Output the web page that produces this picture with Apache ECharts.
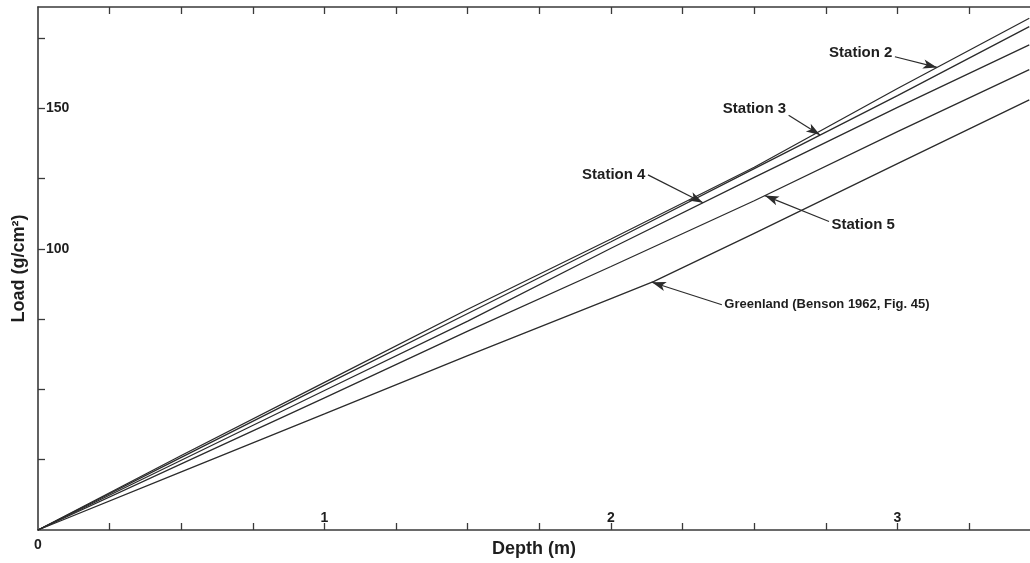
<!DOCTYPE html>
<html>
<head>
<meta charset="utf-8">
<script src="https://cdn.jsdelivr.net/npm/echarts@6/dist/echarts.min.js"></script>
<style>
  html, body { margin: 0; padding: 0; background: #fff; }
  #chart { width: 1030px; height: 563px; }
</style>
</head>
<body>
<div id="chart"></div>
<script>
// Depth (m) sample points for the station curves
const DEPTH = [0, 0.5, 1, 1.5, 2, 2.5, 3, 3.46];
// Load (g/cm²) at each depth
const STATION_2 = [0, 26.5, 52.5, 78.5, 103.5, 129, 157, 182];
const STATION_3 = [0, 25.8, 51.5, 77, 102.5, 128.5, 154.5, 179];
const STATION_4 = [0, 24.8, 49.6, 74.3, 100.2, 125.4, 150.3, 172.5];
const STATION_5 = [0, 23.5, 47, 70.7, 93.7, 117.1, 141.7, 163.7];
// Greenland reference curve (Benson 1962)
const GREENLAND_DEPTH = [0, 0.5, 1, 1.5, 2, 2.15, 2.5, 3, 3.46];
const GREENLAND = [0, 20.7, 41.3, 62, 82.3, 88.4, 105.5, 130.3, 153];

// Axis ranges and tick labels
const X_MAX = 3.4625;
const Y_MAX = 186;
const X_TICKS = [0.25, 0.5, 0.75, 1, 1.25, 1.5, 1.75, 2, 2.25, 2.5, 2.75, 3, 3.25];
const X_LABELS = [1, 2, 3];
const Y_TICKS = [25, 50, 75, 100, 125, 150, 175];
const Y_LABELS = [100, 150];

// Callouts: text, arrow tail [depth, load], depth where the arrow meets its curve
const CALLOUTS = [
  { text: 'Station 2', curve: 'Station 2', tail: [2.991, 168.3], tipDepth: 3.138, side: 'left', dy: -4, size: 15 },
  { text: 'Station 3', curve: 'Station 3', tail: [2.62, 147.5], tipDepth: 2.73, side: 'left', dy: -6, size: 15 },
  { text: 'Station 4', curve: 'Station 4', tail: [2.129, 126.3], tipDepth: 2.321, side: 'left', dy: 0, size: 15 },
  { text: 'Station 5', curve: 'Station 5', tail: [2.761, 109.7], tipDepth: 2.537, side: 'right', dy: 3, size: 15 },
  { text: 'Greenland (Benson 1962, Fig. 45)', curve: 'Greenland', tail: [2.387, 80.1], tipDepth: 2.143, side: 'right', dy: 0, size: 13 }
];

const INK = '#1e1e1e';
const FONT = '"Liberation Sans", Arial, Helvetica, sans-serif';

function pairs(xs, ys) { return xs.map((x, i) => [x, ys[i]]); }

const curves = {
  'Station 2': pairs(DEPTH, STATION_2),
  'Station 3': pairs(DEPTH, STATION_3),
  'Station 4': pairs(DEPTH, STATION_4),
  'Station 5': pairs(DEPTH, STATION_5),
  'Greenland': pairs(GREENLAND_DEPTH, GREENLAND)
};

// load on a curve at a given depth (linear between samples)
function loadAt(pts, d) {
  for (let i = 1; i < pts.length; i++) {
    if (d <= pts[i][0]) {
      const t = (d - pts[i - 1][0]) / (pts[i][0] - pts[i - 1][0]);
      return pts[i - 1][1] + t * (pts[i][1] - pts[i - 1][1]);
    }
  }
  return pts[pts.length - 1][1];
}

const lineSeries = Object.keys(curves).map(name => ({
  name: name,
  type: 'line',
  data: curves[name],
  showSymbol: false,
  symbol: 'none',
  smooth: false,
  lineStyle: { color: '#2b2b2b', width: 1.3 },
  silent: true,
  z: 2
}));

const calloutSeries = {
  type: 'scatter',
  symbolSize: 1,
  itemStyle: { color: 'rgba(0,0,0,0)', opacity: 1 },
  silent: true,
  data: CALLOUTS.map(c => ({
    value: c.tail,
    label: {
      show: true,
      formatter: c.text,
      position: c.side,
      distance: 2,
      offset: [0, c.dy],
      color: INK,
      opacity: 1,
      textBorderWidth: 0,
      fontFamily: FONT,
      fontWeight: 'bold',
      fontSize: c.size
    }
  })),
  markLine: {
    silent: true,
    animation: false,
    symbol: ['none', 'arrow'],
    symbolSize: [7, 14],
    label: { show: false },
    lineStyle: { color: '#2b2b2b', width: 1.2, type: 'solid', opacity: 1 },
    itemStyle: { color: '#2b2b2b' },
    data: CALLOUTS.map(c => [
      { coord: c.tail },
      { coord: [c.tipDepth, loadAt(curves[c.curve], c.tipDepth)] }
    ])
  },
  z: 3
};

const axisLineStyle = { color: '#3a3a3a', width: 1.6 };
const tickLineStyle = { color: '#3a3a3a', width: 1.3 };
const tickLabelStyle = { color: INK, fontFamily: FONT, fontWeight: 'bold', fontSize: 14 };
const nameStyle = { color: INK, fontFamily: FONT, fontWeight: 'bold', fontSize: 18 };

const option = {
  animation: false,
  backgroundColor: '#ffffff',
  grid: { left: 38, right: 0, top: 7, bottom: 29, containLabel: false },
  xAxis: [
    {
      type: 'value', position: 'bottom', min: 0, max: X_MAX, interval: 0.25,
      axisLine: { show: true, lineStyle: axisLineStyle },
      axisTick: { show: true, inside: true, length: 7, customValues: X_TICKS, lineStyle: tickLineStyle },
      axisLabel: Object.assign({ inside: true, margin: 5, customValues: X_LABELS }, tickLabelStyle),
      splitLine: { show: false },
      name: 'Depth (m)', nameLocation: 'middle', nameGap: 10,
      nameTextStyle: nameStyle
    },
    {
      type: 'value', position: 'top', min: 0, max: X_MAX, interval: 0.25,
      axisLine: { show: true, lineStyle: axisLineStyle },
      axisTick: { show: true, inside: true, length: 7, customValues: X_TICKS, lineStyle: tickLineStyle },
      axisLabel: { show: false },
      splitLine: { show: false }
    },
    {
      type: 'value', position: 'bottom', min: 0, max: X_MAX, interval: 0.25,
      axisLine: { show: false },
      axisTick: { show: false },
      axisLabel: Object.assign({ margin: 8, customValues: [0] }, tickLabelStyle),
      splitLine: { show: false }
    }
  ],
  yAxis: {
    type: 'value', min: 0, max: Y_MAX, interval: 25,
    axisLine: { show: true, lineStyle: axisLineStyle },
    axisTick: { show: true, inside: true, length: 7, customValues: Y_TICKS, lineStyle: tickLineStyle },
    axisLabel: Object.assign({ inside: true, margin: 8, customValues: Y_LABELS }, tickLabelStyle),
    splitLine: { show: false },
    name: 'Load (g/cm²)', nameLocation: 'middle', nameGap: 10, nameRotate: 90,
    nameTextStyle: nameStyle
  },
  series: lineSeries.concat([calloutSeries])
};

const chart = echarts.init(document.getElementById('chart'), null, { renderer: 'canvas' });
chart.setOption(option);
</script>
</body>
</html>
